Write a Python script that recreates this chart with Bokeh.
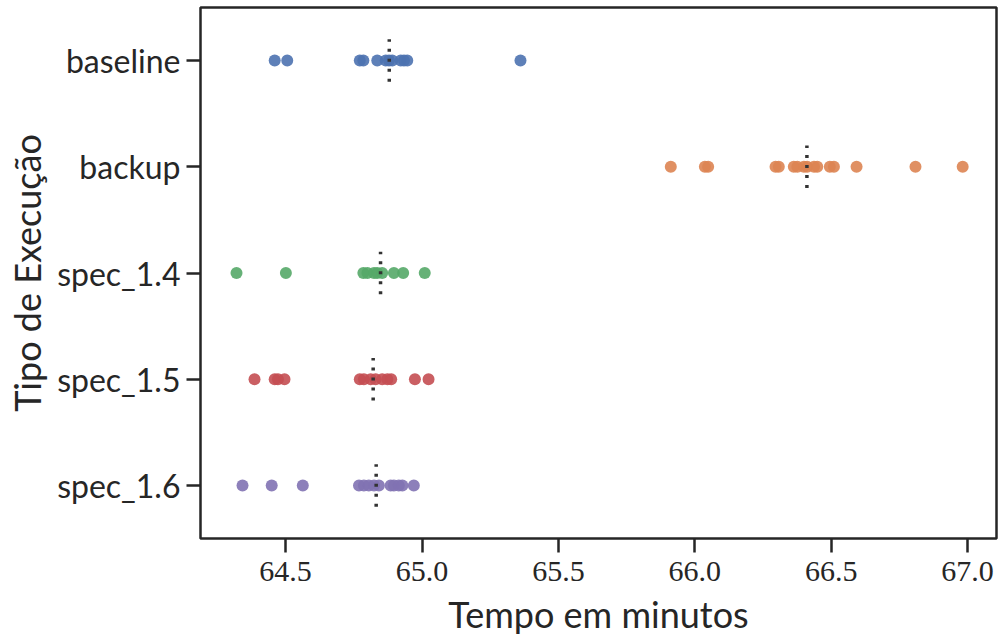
from bokeh.plotting import figure
from bokeh.models import ColumnDataSource, FactorRange, FixedTicker, PrintfTickFormatter, Range1d
from bokeh.transform import dodge
from bokeh.embed import file_html
from bokeh.resources import INLINE

categories = ["baseline", "backup", "spec_1.4", "spec_1.5", "spec_1.6"]
colors = ["#4c72b0", "#dd8452", "#55a868", "#c44e52", "#8172b3"]

baseline = [64.46, 64.506, 64.772, 64.785, 64.836, 64.867, 64.879, 64.891, 64.922, 64.934, 64.946, 65.361]
backup = [65.912, 66.037, 66.049, 66.296, 66.308, 66.363, 66.376, 66.400, 66.412, 66.437, 66.449,
          66.495, 66.510, 66.593, 66.809, 66.982]
spec_14 = [64.320, 64.501, 64.785, 64.800, 64.824, 64.836, 64.854, 64.897, 64.931, 65.010]
spec_15 = [64.386, 64.460, 64.472, 64.496, 64.772, 64.787, 64.812, 64.830, 64.854, 64.873, 64.887,
           64.974, 65.024]
spec_16 = [64.342, 64.449, 64.563, 64.769, 64.787, 64.805, 64.824, 64.842, 64.885, 64.897, 64.915,
           64.928, 64.970]
medians = [64.880, 66.411, 64.848, 64.821, 64.832]

x_ticks = [64.5, 65.0, 65.5, 66.0, 66.5, 67.0]

series = [baseline, backup, spec_14, spec_15, spec_16]

xs, ys, cs = [], [], []
for cat, vals, col in zip(categories, series, colors):
    for v in vals:
        xs.append(v)
        ys.append(cat)
        cs.append(col)
pts = ColumnDataSource(dict(x=xs, y=ys, c=cs))
med = ColumnDataSource(dict(x=medians, y=categories))

p = figure(width=1000, height=639, output_backend="svg", toolbar_location=None,
           x_range=Range1d(64.188, 67.106),
           y_range=FactorRange(factors=list(reversed(categories)), range_padding=0),
           min_border_left=200, min_border_right=4, min_border_top=7, min_border_bottom=101)

p.scatter("x", "y", source=pts, size=12, fill_color="c", line_color=None, fill_alpha=0.9)
p.segment(x0="x", x1="x", y0=dodge("y", -0.2, range=p.y_range), y1=dodge("y", 0.2, range=p.y_range),
          source=med, line_color="#333333", line_width=3.5, line_dash="3 7")

p.xgrid.visible = False
p.ygrid.visible = False
p.outline_line_color = "#262626"
p.outline_line_width = 2.5
p.outline_line_alpha = 1
p.background_fill_color = "white"
p.border_fill_color = "white"

for ax in (p.xaxis[0], p.yaxis[0]):
    ax.axis_line_color = None
    ax.major_tick_line_color = "#262626"
    ax.major_tick_line_width = 2.5
    ax.major_tick_out = 14
    ax.major_tick_in = 0
    ax.minor_tick_line_color = None
    ax.major_label_text_color = "#262626"
    ax.axis_label_text_color = "#262626"
    ax.axis_label_text_font_style = "normal"

p.xaxis.ticker = FixedTicker(ticks=x_ticks)
p.xaxis.formatter = PrintfTickFormatter(format="%.1f")
p.xaxis.major_label_text_font = "Liberation Serif"
p.xaxis.major_label_text_font_size = "30px"
p.xaxis.major_label_standoff = 9
p.xaxis.axis_label = "Tempo em minutos"
p.xaxis.axis_label_text_font = "Lato"
p.xaxis.axis_label_text_font_size = "36px"
p.xaxis.axis_label_standoff = 8

p.yaxis.major_label_text_font = "Lato"
p.yaxis.major_label_text_font_size = "32px"
p.yaxis.major_label_standoff = 6
p.yaxis.axis_label = "Tipo de Execução"
p.yaxis.axis_label_text_font = "Lato"
p.yaxis.axis_label_text_font_size = "36px"
p.yaxis.axis_label_standoff = 5

open("out.html", "w").write(file_html(p, INLINE))
